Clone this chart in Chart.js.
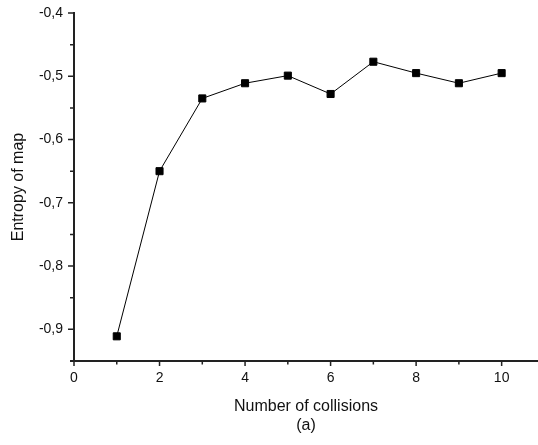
<!DOCTYPE html>
<html>
<head>
<meta charset="utf-8">
<script src="https://cdn.jsdelivr.net/npm/chart.js@4.4.1/dist/chart.umd.min.js"></script>
<style>
  html, body { margin: 0; padding: 0; background: #fff; overflow: hidden; }
  #wrap { width: 538px; height: 445px; position: relative; }
</style>
</head>
<body>
<div id="wrap"><canvas id="chart"></canvas></div>
<script>
const collisions = [1, 2, 3, 4, 5, 6, 7, 8, 9, 10];
const entropy = [-0.911, -0.650, -0.535, -0.511, -0.499, -0.528, -0.477, -0.495, -0.511, -0.495];
const xRange = [0, 10.85];
const yRange = [-0.95, -0.4];

const AXIS = '#222';
Chart.defaults.font.family = '"Liberation Sans", Arial, sans-serif';
Chart.defaults.color = '#111';

const isTenth = (v) => Math.abs(v * 10 - Math.round(v * 10)) < 1e-6;

// outward major / minor tick marks, drawn from the scales' own ticks
const tickMarks = {
  id: 'tickMarks',
  afterDraw(chart) {
    const { ctx, chartArea: a, scales } = chart;
    ctx.save();
    ctx.strokeStyle = AXIS;
    ctx.lineWidth = 1.5;
    ctx.beginPath();
    scales.x.ticks.forEach((t) => {
      if (!Number.isInteger(t.value)) return;
      const px = scales.x.getPixelForValue(t.value);
      const len = t.value % 2 === 0 ? 5 : 3.5;
      ctx.moveTo(px, a.bottom);
      ctx.lineTo(px, a.bottom + len);
    });
    scales.y.ticks.forEach((t) => {
      const py = scales.y.getPixelForValue(t.value);
      const len = isTenth(t.value) ? 6 : 4;
      ctx.moveTo(a.left, py);
      ctx.lineTo(a.left - len, py);
    });
    ctx.stroke();
    // short overhang of the x axis to the left
    ctx.lineWidth = 2;
    ctx.beginPath();
    ctx.moveTo(a.left - 4, a.bottom);
    ctx.lineTo(a.left, a.bottom);
    ctx.stroke();
    ctx.restore();
  },
};

new Chart(document.getElementById('chart'), {
  type: 'line',
  data: {
    datasets: [{
      data: collisions.map((x, i) => ({ x, y: entropy[i] })),
      borderColor: '#000',
      borderWidth: 1,
      backgroundColor: '#000',
      pointStyle: 'rect',
      pointRadius: 5,
      pointBorderWidth: 1,
      pointBorderColor: '#000',
      pointBackgroundColor: '#000',
      tension: 0,
    }],
  },
  options: {
    responsive: true,
    maintainAspectRatio: false,
    animation: false,
    layout: { autoPadding: false, padding: { top: 13, right: 0, left: 0, bottom: 0 } },
    plugins: { legend: { display: false }, tooltip: { enabled: false } },
    scales: {
      x: {
        type: 'linear',
        min: xRange[0],
        max: xRange[1],
        grid: { display: false, drawTicks: false },
        border: { display: true, color: AXIS, width: 2 },
        ticks: {
          stepSize: 1,
          includeBounds: false,
          autoSkip: false,
          maxRotation: 0,
          padding: 9,
          font: { size: 14 },
          callback: (v) => (Number.isInteger(v) && v % 2 === 0 ? String(v) : ''),
        },
        title: {
          display: true,
          text: ['Number of collisions', '(a)'],
          font: { size: 16 },
          padding: { top: 0, bottom: 10 },
          color: '#111',
        },
        afterFit: (s) => { s.height = 84; s.paddingLeft = 0; s.paddingRight = 0; },
      },
      y: {
        min: yRange[0],
        max: yRange[1],
        grid: { display: false, drawTicks: false },
        border: { display: true, color: AXIS, width: 2 },
        ticks: {
          stepSize: 0.05,
          autoSkip: false,
          padding: 11,
          font: { size: 14 },
          callback: (v) => (isTenth(v) ? v.toFixed(1).replace('.', ',') : ''),
        },
        title: {
          display: true,
          text: 'Entropy of map',
          font: { size: 16 },
          padding: { top: 9, bottom: 0 },
          color: '#111',
        },
        afterFit: (s) => { s.width = 74; s.paddingTop = 0; s.paddingBottom = 0; },
      },
    },
  },
  plugins: [tickMarks],
});
</script>
</body>
</html>
